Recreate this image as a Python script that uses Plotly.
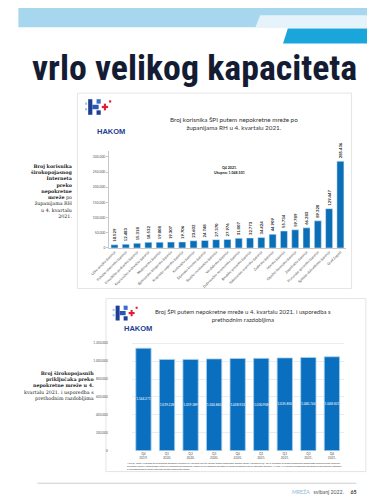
import plotly.graph_objects as go

W, H = 375, 499
OFF = 8
VS = (H + OFF) / H
def px(x): return (x - OFF) / W
def py(y): return 1 - (y * VS - OFF) / H

# ---------------- data ----------------
counties = [
    "Ličko-senjska županija", "Požeško-slavonska županija", "Virovitičko-podravska županija",
    "Koprivničko-križevačka županija", "Međimurska županija", "Bjelovarsko-bilogorska županija",
    "Krapinsko-zagorska županija", "Karlovačka županija", "Šibensko-kninska županija",
    "Sisačko-moslavačka županija", "Varaždinska županija", "Dubrovačko-neretvanska županija",
    "Brodsko-posavska županija", "Vukovarsko-srijemska županija", "Zadarska županija",
    "Istarska županija", "Osječko-baranjska županija", "Zagrebačka županija",
    "Primorsko-goranska županija", "Splitsko-dalmatinska županija", "Grad Zagreb",
]
users = [10529, 12483, 15318, 18532, 19008, 19307, 19706, 23602, 24748, 27370, 27976,
         31807, 32773, 34424, 44909, 55734, 59789, 66283, 89320, 129447, 285436]
y1_ticks = [0, 50000, 100000, 150000, 200000, 250000, 300000]

quarters = ["Q4<br>2019.", "Q1<br>2020.", "Q2<br>2020.", "Q3<br>2020.", "Q4<br>2020.",
            "Q1<br>2021.", "Q2<br>2021.", "Q3<br>2021.", "Q4<br>2021."]
connections = [1144271, 1019228, 1019389, 1024840, 1028923, 1030908, 1035850, 1040744, 1048501]
y2_ticks = [0, 200000, 400000, 600000, 800000, 1000000, 1200000]

BLUE = "#0b6fb8"
fig = go.Figure()

fig.add_trace(go.Bar(
    x=counties, y=users, xaxis="x", yaxis="y", width=0.62,
    marker=dict(color=BLUE),
    texttemplate="%{y:,}", textposition="outside", textangle=-90,
    textfont=dict(size=4.2, color="#222", family="Lato, Open Sans, sans-serif", weight="bold"),
    constraintext="none", cliponaxis=False, showlegend=False, hoverinfo="x+y",
))
fig.add_trace(go.Bar(
    x=quarters, y=connections, xaxis="x2", yaxis="y2", width=0.65,
    marker=dict(color="#0a6fbf", line=dict(color="#a9d2ef", width=0.8)),
    texttemplate="%{y:,}", textposition="inside", insidetextanchor="middle", textangle=0,
    textfont=dict(size=3.2, color="white", family="Lato, Open Sans, sans-serif"),
    constraintext="none", showlegend=False, hoverinfo="x+y",
))

shapes = []
shapes.append(dict(type="rect", xref="paper", yref="paper", x0=px(0), x1=px(380), y0=py(27), y1=py(-2),
                   fillcolor="#a6d7ee", line=dict(width=0), layer="below"))
def path(points):
    return "M " + " L ".join(f"{px(a):.4f},{py(b):.4f}" for a, b in points) + " Z"
shapes.append(dict(type="path", xref="paper", yref="paper",
                   path=path([(254, 15), (380, 15), (380, 27), (249, 27)]),
                   fillcolor="#e6f3fa", line=dict(width=0)))
shapes.append(dict(type="path", xref="paper", yref="paper",
                   path=path([(283, 28), (380, 28), (380, 43), (278, 43)]),
                   fillcolor="#1aa6da", line=dict(width=0)))
shapes.append(dict(type="rect", xref="paper", yref="paper", x0=px(62), x1=px(350), y0=py(285), y1=py(92),
                   fillcolor="white", line=dict(color="#e4e4e4", width=1), layer="below"))
shapes.append(dict(type="rect", xref="paper", yref="paper", x0=px(92), x1=px(365), y0=py(466), y1=py(295),
                   fillcolor="white", line=dict(color="#e4e4e4", width=1), layer="below"))
shapes.append(dict(type="line", xref="paper", yref="paper", x0=px(20), x1=px(355), y0=py(477.5), y1=py(477.5),
                   line=dict(color="#cfcfcf", width=1)))

def logo(x0, y0, s):
    def r(a, b, c, d, col):
        shapes.append(dict(type="rect", xref="paper", yref="paper",
                           x0=px(x0 + a * s), x1=px(x0 + c * s), y0=py(y0 + d * s), y1=py(y0 + b * s),
                           fillcolor=col, line=dict(width=0)))
    r(0, 3, 2, 5, "#9fc3ea")
    r(0, 8, 2, 10, "#9fc3ea")
    r(3, 0, 7, 14, "#1f3f93")
    r(7, 5, 13, 9, "#2a56b5")
    r(11, 0, 15, 4, "#3d6cc8")
    r(11, 10, 15, 14, "#1f3f93")
    r(18, 4, 20, 10, "#e0202e")
    r(16, 6, 22, 8, "#e0202e")
    r(23, 1, 25, 3, "#e0202e")

logo(70, 98, 1.1)
logo(99, 302, 1.05)
fig.update_layout(shapes=shapes)

TXT = "Lato, Open Sans, sans-serif"
SERIF = "DejaVu Serif, Liberation Serif, serif"
ann = []
ann.append(dict(text="vrlo velikog kapaciteta", x=px(185), y=py(67.5), xanchor="center", yanchor="middle",
                font=dict(size=35.8, color="#141c33", weight="bold",
                          family="Roboto Condensed, DejaVu Sans Condensed, Open Sans")))
ann.append(dict(text="<b>HAKOM</b>", x=px(81), y=py(123), font=dict(size=7.5, color="#1f3f93", family="Liberation Sans, Arial")))
ann.append(dict(text="<b>HAKOM</b>", x=px(109), y=py(324.5), font=dict(size=7.5, color="#1f3f93", family="Liberation Sans, Arial")))
ann.append(dict(text="Broj korisnika ŠPI putem nepokretne mreže po<br>županijama RH u 4. kvartalu 2021.",
                x=px(226), y=py(112.5), font=dict(size=6.3, color="#333", family=TXT)))
ann.append(dict(text="Broj ŠPI putem nepokretne mreže u 4. kvartalu 2021. i usporedba s<br>prethodnim razdobljima",
                x=px(236), y=py(312), font=dict(size=6.0, color="#333", family=TXT)))
ann.append(dict(text="<b>Q4 2021.<br>Ukupno: 1.048.501</b>", x=px(222), y=py(161),
                font=dict(size=3.6, color="#222", family=TXT)))
ann.append(dict(text="<b>Broj korisnika<br>širokopojasnog<br>Interneta<br>preko<br>nepokretne<br>mreže</b> po<br>županijama RH<br>u 4. kvartalu<br>2021.",
                x=px(59), y=py(159), xanchor="right", yanchor="top", align="right",
                font=dict(size=4.8, color="#222", family=SERIF)))
ann.append(dict(text="<b>Broj širokopojasnih<br>priključaka preko<br>nepokretne mreže u 4.</b><br>kvartalu 2021. i usporedba s<br>prethodnim razdobljima",
                x=px(82), y=py(364), xanchor="right", yanchor="top", align="right",
                font=dict(size=4.8, color="#222", family=SERIF)))
ann.append(dict(text="* Od Q1 2020. u obrazac za prikupljanje podataka uključeni su i korisnici koji ŠPI koriste putem nepokretne bežične mreže, a podaci za Q4 2019. prikazani su prema prethodnoj metodologiji izračuna broja korisnika;<br>"
                     "navedene razlike u metodologiji utječu na usporedivost podataka. Podaci za sva razdoblja prikazani su prema podacima koje su operatori dostavili HAKOM-u u skladu s propisanim obrascima za prikupljanje podataka<br>"
                     "o širokopojasnom pristupu internetu putem nepokretne mreže.",
                x=px(112), y=py(455), xanchor="left", yanchor="top", align="left",
                font=dict(size=2.3, color="#444", family=TXT)))
ann.append(dict(text="<span style='color:#8fb9cf'>MREŽA</span>   <span style='color:#555'>svibanj 2022.</span>     <b>65</b>",
                x=px(322), y=py(485.5), xanchor="center", yanchor="middle",
                font=dict(size=5.2, color="#333", family=TXT)))
for a in ann:
    a.setdefault("xref", "paper")
    a.setdefault("yref", "paper")
    a["showarrow"] = False
fig.update_layout(annotations=ann)

fig.update_layout(
    width=W, height=H, margin=dict(l=0, r=0, t=0, b=0),
    paper_bgcolor="white", plot_bgcolor="rgba(0,0,0,0)",
    separators=",.",
    xaxis=dict(domain=[px(95), px(344.2)], anchor="y", tickangle=-45,
               tickfont=dict(size=3.4, color="#444", family=TXT), showline=True,
               linecolor="#c8c8c8", linewidth=0.6, ticks="", fixedrange=True),
    yaxis=dict(domain=[py(245), py(149)], range=[0, 320000], tickvals=y1_ticks, tickformat=",",
               tickfont=dict(size=3.4, color="#555", family=TXT), showgrid=False, zeroline=False,
               showline=True, linecolor="#c8c8c8", linewidth=0.6, ticks="outside", ticklen=2,
               tickcolor="#c8c8c8", tickwidth=0.5),
    xaxis2=dict(domain=[px(119), px(341.7)], anchor="y2",
                tickfont=dict(size=3.2, color="#555", family=TXT), showline=False, ticks=""),
    yaxis2=dict(domain=[py(445.3), py(334.7)], range=[0, 1250000], tickvals=y2_ticks, tickformat=",",
                tickfont=dict(size=3.2, color="#555", family=TXT), gridcolor="#ececec", gridwidth=0.6,
                zeroline=False, showline=False),
)

fig.write_html("out.html", config={"displayModeBar": False})
